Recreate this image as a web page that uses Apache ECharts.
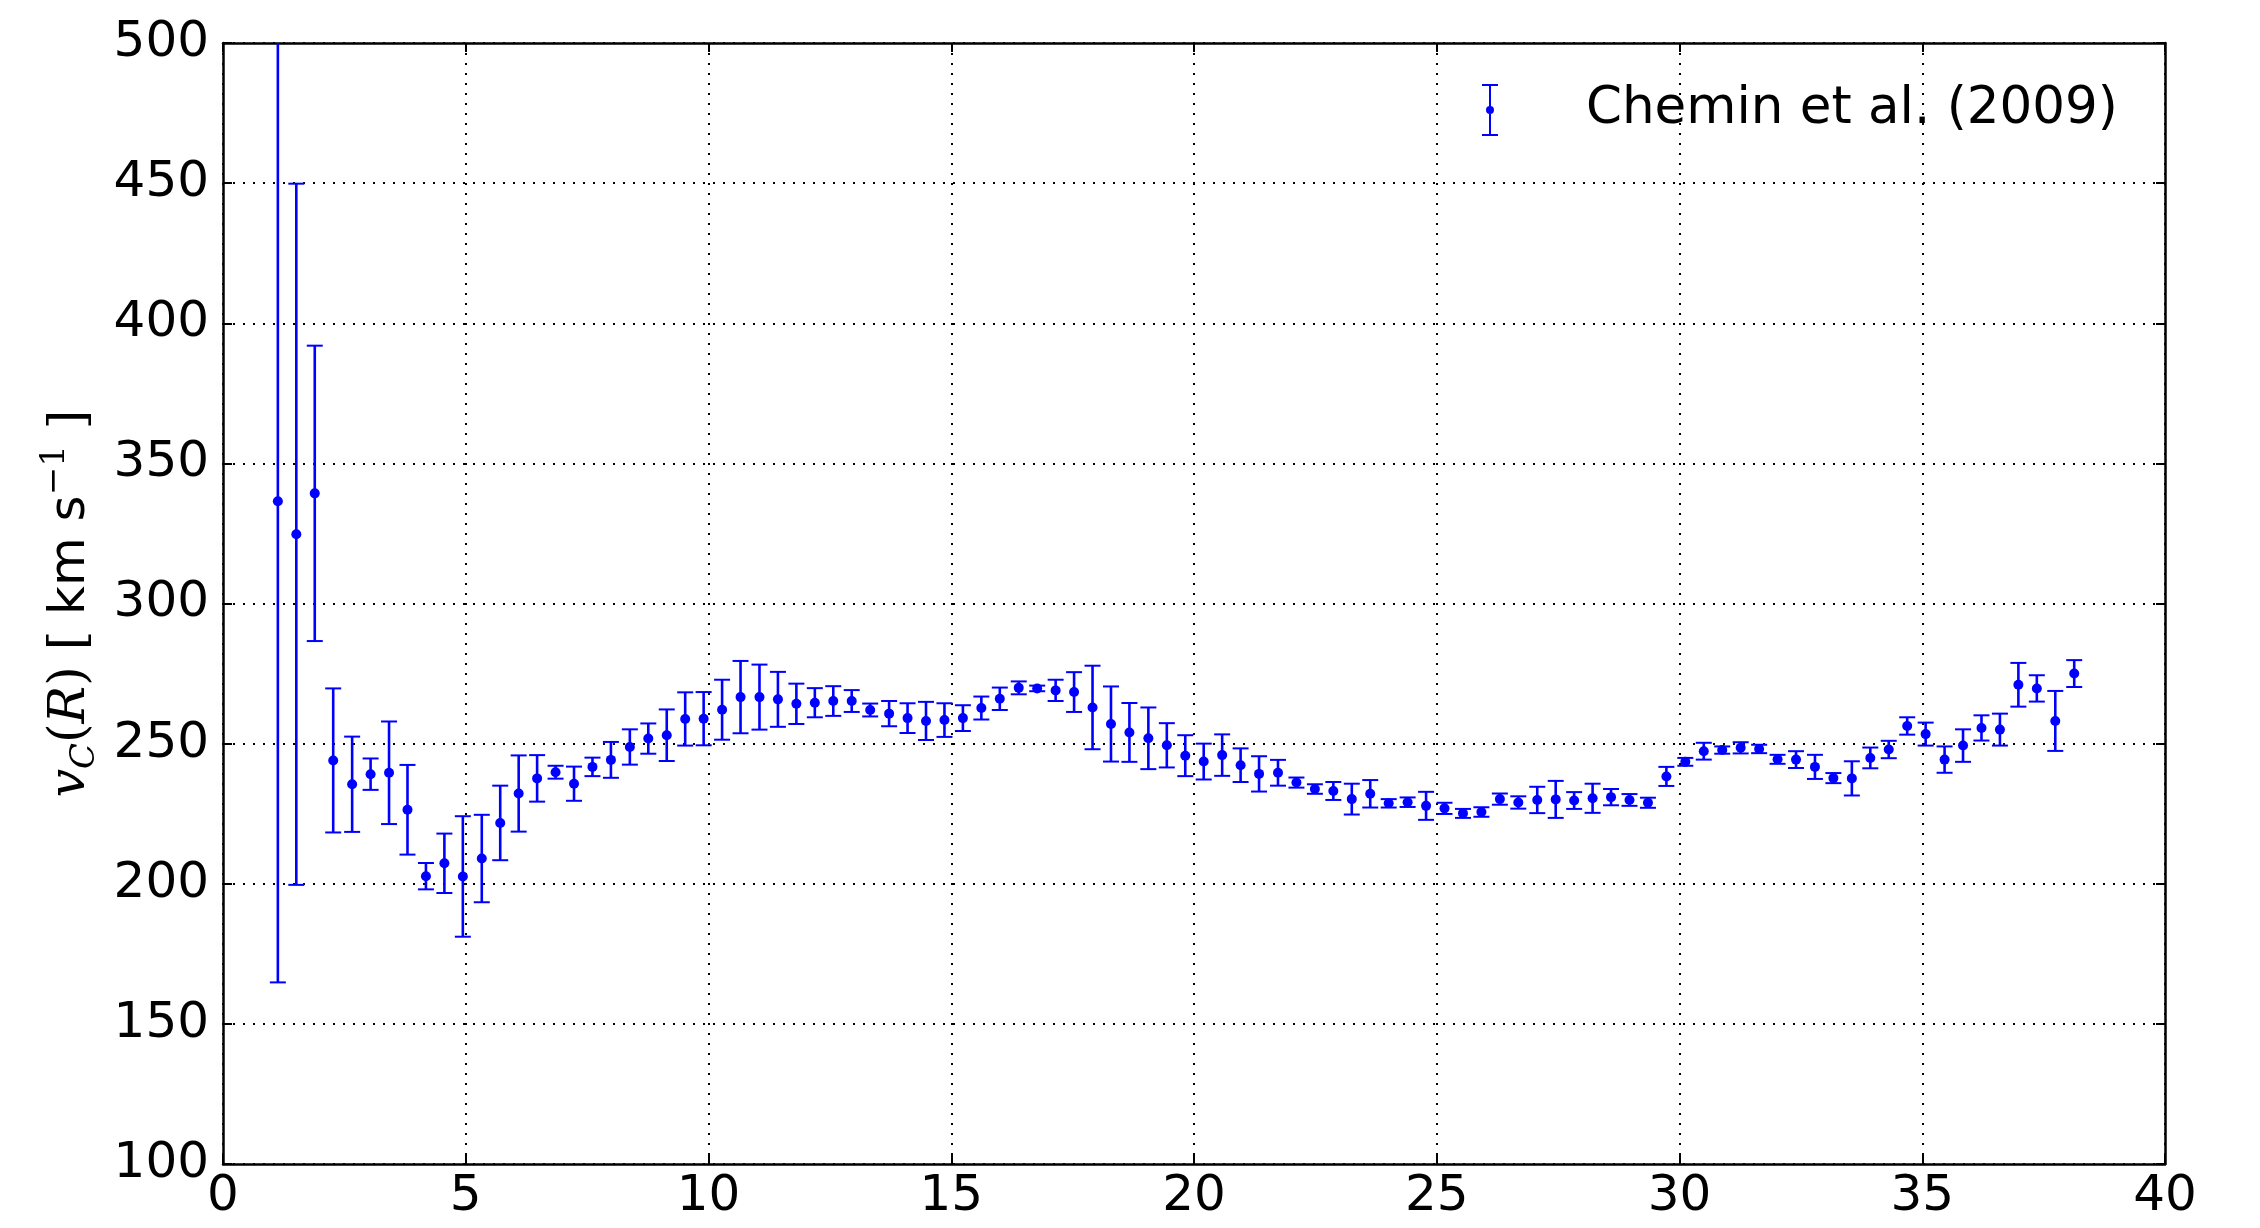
<!DOCTYPE html>
<html>
<head>
<meta charset="utf-8">
<script src="https://cdn.jsdelivr.net/npm/echarts@6/dist/echarts.min.js"></script>
<style>
html,body{margin:0;padding:0;background:#fff;}
#chart{width:2260px;height:1228px;}
</style>
</head>
<body>
<div id="chart"></div>
<script>
// Radius R [kpc]
var radius = [1.13,1.51,1.89,2.27,2.66,3.04,3.42,3.80,4.18,4.56,4.94,5.33,5.71,6.09,6.47,6.85,7.23,7.61,7.99,8.38,
  8.76,9.14,9.52,9.90,10.28,10.66,11.05,11.43,11.81,12.19,12.57,12.95,13.33,13.72,14.10,14.48,14.86,15.24,15.62,16.00,
  16.39,16.77,17.15,17.53,17.91,18.29,18.67,19.06,19.44,19.82,20.20,20.58,20.96,21.34,21.73,22.11,22.49,22.87,23.25,23.63,
  24.01,24.40,24.78,25.16,25.54,25.92,26.30,26.68,27.07,27.45,27.83,28.21,28.59,28.97,29.35,29.73,30.12,30.50,30.88,31.26,
  31.64,32.02,32.40,32.79,33.17,33.55,33.93,34.31,34.69,35.07,35.46,35.84,36.22,36.60,36.98,37.36,37.74,38.13];
// Circular velocity v_C [km/s]
var velocity = [336.5,324.7,339.3,244.0,235.5,239.1,239.6,226.4,202.7,207.3,202.6,209.0,221.7,232.2,237.6,239.8,235.7,241.7,244.2,248.8,
  251.8,253.0,258.8,258.9,262.1,266.6,266.6,265.8,264.2,264.6,265.2,265.2,262.0,260.7,259.1,258.1,258.4,259.1,262.7,266.0,
  269.9,269.7,269.0,268.4,262.9,257.0,254.0,251.9,249.4,245.7,243.6,245.9,242.3,239.2,239.6,236.1,233.8,233.1,230.2,232.1,
  228.7,229.1,227.8,226.9,225.1,225.6,230.2,229.0,229.9,230.1,229.7,230.5,230.9,229.9,228.9,238.3,243.5,247.3,247.7,248.5,
  248.1,244.4,244.3,241.7,237.7,237.6,244.9,247.9,256.3,253.4,244.3,249.3,255.6,255.0,271.0,269.7,258.1,275.0];
// Symmetric error [km/s]
var velocityErr = [171.7,125.1,52.7,25.7,17.0,5.6,18.3,16.0,4.7,10.6,21.5,15.6,13.3,13.6,8.3,2.3,6.1,3.3,6.4,6.3,
  5.4,9.2,9.5,9.5,10.7,12.9,11.6,9.8,7.2,5.2,5.3,3.9,2.3,4.5,5.3,6.8,6.0,4.6,4.1,4.0,
  2.3,1.0,3.8,7.1,14.9,13.4,10.5,11.0,7.9,7.3,6.4,7.4,6.0,6.3,4.6,1.8,1.7,3.2,5.5,4.9,
  1.5,1.7,5.0,2.0,1.6,1.7,2.0,2.2,4.7,6.6,3.0,5.2,2.9,2.1,1.8,3.4,1.4,3.0,1.3,2.0,
  1.5,1.6,3.0,4.3,1.8,6.1,3.7,3.1,3.1,4.1,4.7,5.8,4.5,5.7,7.8,4.7,10.7,4.8];
var seriesName = 'Chemin et al. (2009)';
var xTicks = {min: 0, max: 40, interval: 5};
var yTicks = {min: 100, max: 500, interval: 50};

var points = radius.map(function (r, i) { return [r, velocity[i]]; });
var bars = radius.map(function (r, i) { return [r, velocity[i] - velocityErr[i], velocity[i] + velocityErr[i]]; });

var FONT = 'DejaVu Sans';
var BLUE = '#0000ff';

var chart = echarts.init(document.getElementById('chart'), null, {renderer: 'canvas'});
var option = {
  animation: false,
  backgroundColor: '#ffffff',
  grid: {left: 223, right: 95, top: 43, bottom: 64, containLabel: false},
  legend: {
    data: [seriesName],
    left: 1482, top: 84, padding: 0,
    itemWidth: 182, itemHeight: 52,
    icon: 'path://M0,0H16V2H0Z M7,0H9V52H7Z M0,50H16V52H0Z M4,26A4,4,0,1,1,12,26A4,4,0,1,1,4,26Z',
    textStyle: {fontFamily: FONT, fontSize: 51.5, color: '#000', padding: [7, 0, 0, 0]},
    itemStyle: {color: BLUE}
  },
  xAxis: [{
    type: 'value', position: 'bottom',
    min: xTicks.min, max: xTicks.max, interval: xTicks.interval,
    axisLine: {show: true, onZero: false, lineStyle: {color: '#000', width: 2.5}},
    axisTick: {show: true, inside: true, length: 9, lineStyle: {color: '#000', width: 2}},
    axisLabel: {show: true, margin: 8, fontFamily: FONT, fontSize: 50, color: '#000'},
    splitLine: {show: true, lineStyle: {color: '#000', width: 2, type: [2, 8]}}
  }, {
    type: 'value', position: 'top',
    min: xTicks.min, max: xTicks.max, interval: xTicks.interval,
    axisLine: {show: true, onZero: false, lineStyle: {color: '#000', width: 2.5}},
    axisTick: {show: true, inside: true, length: 9, lineStyle: {color: '#000', width: 2}},
    axisLabel: {show: false},
    splitLine: {show: false}
  }],
  yAxis: [{
    type: 'value', position: 'left',
    min: yTicks.min, max: yTicks.max, interval: yTicks.interval,
    axisLine: {show: true, onZero: false, lineStyle: {color: '#000', width: 2.5}},
    axisTick: {show: true, inside: true, length: 9, lineStyle: {color: '#000', width: 2}},
    axisLabel: {show: true, margin: 14, fontFamily: FONT, fontSize: 50, color: '#000'},
    splitLine: {show: true, lineStyle: {color: '#000', width: 2, type: [2, 8]}},
    name: '{i|v}{sub|C}{m|(}{i|R}{m|)} {m|[} km s{sup|−1} {m|]}',
    nameLocation: 'middle', nameRotate: 90, nameGap: 118,
    nameTextStyle: {
      fontFamily: FONT, fontSize: 50, color: '#000', lineHeight: 64,
      rich: {
        i: {fontFamily: 'DejaVu Serif', fontStyle: 'italic', fontSize: 50, color: '#000', lineHeight: 64},
        m: {fontFamily: 'DejaVu Serif', fontSize: 50, color: '#000', lineHeight: 64},
        sub: {fontFamily: 'DejaVu Serif', fontStyle: 'italic', fontSize: 34, color: '#000', lineHeight: 34, verticalAlign: 'bottom'},
        sup: {fontFamily: 'DejaVu Serif', fontSize: 34, color: '#000', lineHeight: 34, verticalAlign: 'top'}
      }
    }
  }, {
    type: 'value', position: 'right',
    min: yTicks.min, max: yTicks.max, interval: yTicks.interval,
    axisLine: {show: true, onZero: false, lineStyle: {color: '#000', width: 2.5}},
    axisTick: {show: true, inside: true, length: 9, lineStyle: {color: '#000', width: 2}},
    axisLabel: {show: false},
    splitLine: {show: false}
  }],
  series: [{
    name: 'errorbars',
    type: 'custom',
    xAxisIndex: 0, yAxisIndex: 0,
    clip: true,
    z: 3,
    data: bars,
    renderItem: function (params, api) {
      var x = api.value(0), lo = api.value(1), hi = api.value(2);
      var pTop = api.coord([x, hi]);
      var pBot = api.coord([x, lo]);
      var hw = 8;
      var vStyle = {stroke: BLUE, lineWidth: 2.6, fill: null};
      var cStyle = {stroke: BLUE, lineWidth: 2, fill: null};
      return {
        type: 'group',
        children: [
          {type: 'line', shape: {x1: pTop[0], y1: pTop[1], x2: pBot[0], y2: pBot[1]}, style: vStyle},
          {type: 'line', shape: {x1: pTop[0] - hw, y1: pTop[1], x2: pTop[0] + hw, y2: pTop[1]}, style: cStyle},
          {type: 'line', shape: {x1: pBot[0] - hw, y1: pBot[1], x2: pBot[0] + hw, y2: pBot[1]}, style: cStyle}
        ]
      };
    }
  }, {
    name: seriesName,
    type: 'scatter',
    xAxisIndex: 0, yAxisIndex: 0,
    data: points,
    symbol: 'circle',
    symbolSize: 10,
    z: 4,
    itemStyle: {color: BLUE, opacity: 1}
  }]
};
chart.setOption(option);
</script>
</body>
</html>
